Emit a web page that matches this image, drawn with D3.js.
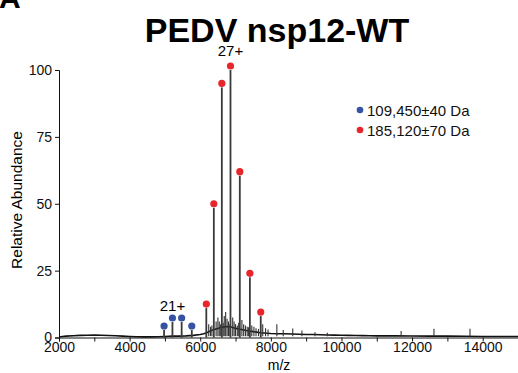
<!DOCTYPE html>
<html><head><meta charset="utf-8">
<script src="https://cdn.jsdelivr.net/npm/d3@7"></script>
<style>body{margin:0;background:#fff}svg{display:block;font-family:"Liberation Sans",Arial,sans-serif}</style>
</head><body><svg id="c" width="518" height="373"></svg>
<script>
// ---- data ----
const baseMz  = [2000,2100,2200,2400,2600,2800,3000,3200,3400,3600,3800,4000,4200,4400,4600,4800,5000,5200,5400,5600,5800,6000,6100,6200,6300,6400,6500,6600,6700,6800,6900,7000,7100,7200,7300,7400,7500,7600,7700,7800,7900,8000,8200,8400,8600,8800,9000,9200,9400,9600,9800,10000,10200,10400,10600,10800,11000,11500,12000,12500,13000,13500,14000,14500,15000];
const baseInt = [0.2,0.35,0.5,0.65,0.8,0.85,0.9,0.85,0.75,0.65,0.5,0.4,0.3,0.25,0.25,0.3,0.4,0.5,0.5,0.6,0.8,1.1,1.4,1.9,2.5,3.0,3.4,3.8,4.0,4.1,3.8,3.4,3.2,2.9,2.6,2.4,2.2,2.0,1.8,1.7,1.6,1.5,1.4,1.4,1.3,1.2,1.1,1.1,1.0,0.95,0.9,0.85,0.8,0.75,0.7,0.65,0.6,0.6,0.55,0.5,0.5,0.45,0.4,0.4,0.4];
const minorMz  = [6240,6290,6330,6450,6500,6540,6580,6650,6680,6720,6760,6800,6840,6920,6960,7000,7050,7090,7180,7230,7280,7330,7370,7460,7520,7580,7650,7770,7850,7920,8170,8350,8620,8880,9250,9600,11690,12620,13640];
const minorInt = [5,4,4.5,6,7.5,6,5,5.5,8,9.5,7,6,5,7.5,6,5,4.5,5.5,6.5,5,4.5,4,3.8,4.5,4,3.5,3.2,5,3.5,3,5,2.8,3.4,2.6,2,1.8,2.4,3.3,3.3];
const redMz  = [6172,6385,6612,6857,7121,7406,7714];
const redInt = [11,48.5,93.5,100,60.5,22.5,8];
const blueMz  = [4976,5213,5474,5761];
const blueInt = [2.8,5.8,5.8,2.8];
const legendLabels = ["109,450\u00b140 Da","185,120\u00b170 Da"];
const yTicks = [0,25,50,75,100];
const xTicks = [2000,3000,4000,5000,6000,7000,8000,9000,10000,11000,12000,13000,14000,15000];
const xLabels = [2000,4000,6000,8000,10000,12000,14000];

const RED = "#e8252b", BLUE = "#3652a3";
const svg = d3.select("#c");
const x = d3.scaleLinear().domain([2000,15000]).range([59,518]);
const y = d3.scaleLinear().domain([0,100]).range([337.5,70]);

// panel letter + title
svg.append("text").attr("x",-1).attr("y",8).attr("font-size",30).attr("font-weight","bold").text("A");
svg.append("text").attr("x",277).attr("y",42).attr("text-anchor","middle").attr("font-size",34).attr("font-weight","bold").text("PEDV nsp12-WT");

// baseline
svg.append("path").datum(baseMz.map((m,i)=>[m,baseInt[i]]))
  .attr("fill","none").attr("stroke","#111").attr("stroke-width",1.6)
  .attr("d",d3.line().x(d=>x(d[0])).y(d=>y(d[1])));

// minor spikes
svg.selectAll(".mn").data(minorMz.map((m,i)=>[m,minorInt[i]])).join("line")
  .attr("x1",d=>x(d[0])).attr("x2",d=>x(d[0])).attr("y1",y(0.5)).attr("y2",d=>y(d[1]))
  .attr("stroke","#333").attr("stroke-width",1.1);

// main peaks
const peaks = redMz.map((m,i)=>({m,v:redInt[i],c:RED})).concat(blueMz.map((m,i)=>({m,v:blueInt[i],c:BLUE})));
svg.selectAll(".pk").data(peaks).join("line")
  .attr("x1",d=>x(d.m)).attr("x2",d=>x(d.m)).attr("y1",y(0)).attr("y2",d=>y(d.v))
  .attr("stroke","#3a3a3a").attr("stroke-width",1.8);
svg.selectAll(".dt").data(peaks).join("circle")
  .attr("cx",d=>x(d.m)).attr("cy",d=>y(d.v)-4).attr("r",3.6).attr("fill",d=>d.c);

// charge labels
svg.append("text").attr("x",x(redMz[3])).attr("y",56).attr("text-anchor","middle").attr("font-size",15).text("27+");
svg.append("text").attr("x",x(blueMz[1])).attr("y",311).attr("text-anchor","middle").attr("font-size",15).text("21+");

// axes
const gy = svg.append("g").attr("transform","translate(59,0)")
  .call(d3.axisLeft(y).tickValues(yTicks).tickSize(4).tickPadding(3));
const gx = svg.append("g").attr("transform","translate(0,337.5)")
  .call(d3.axisBottom(x).tickValues(xTicks).tickSize(4).tickPadding(1)
    .tickFormat(d=>xLabels.includes(d)?d:""));
[gy,gx].forEach(g=>{g.selectAll("text").attr("font-size",14).attr("fill","#111").attr("font-family","Liberation Sans, Arial, sans-serif");
  g.selectAll("line,path").attr("stroke","#111");});

svg.append("text").attr("transform","translate(22,200) rotate(-90)").attr("text-anchor","middle").attr("font-size",15.5).text("Relative Abundance");
svg.append("text").attr("x",279).attr("y",370).attr("text-anchor","middle").attr("font-size",14).text("m/z");

// legend
[BLUE,RED].forEach((c,i)=>{
  svg.append("circle").attr("cx",360).attr("cy",110+i*20).attr("r",3.3).attr("fill",c);
  svg.append("text").attr("x",367).attr("y",115.5+i*20).attr("font-size",15).attr("fill","#111").text(legendLabels[i]);
});
</script></body></html>
